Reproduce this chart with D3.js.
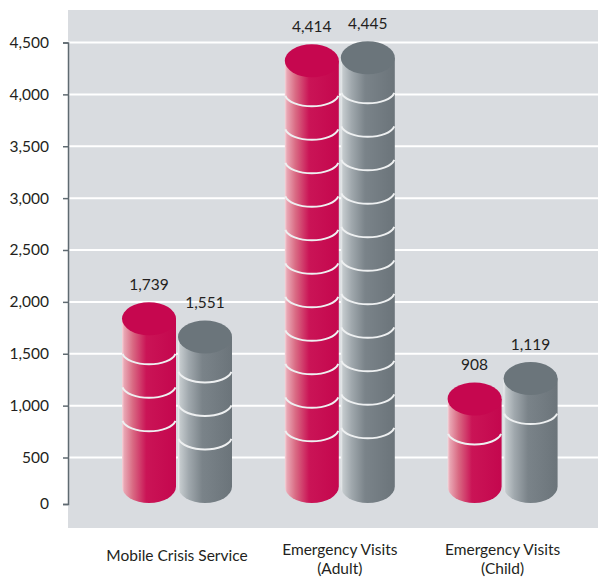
<!DOCTYPE html>
<html>
  <head>
    <meta charset="utf-8">
    <title>Crisis and Emergency Visits</title>
    <script src="https://cdn.jsdelivr.net/npm/d3@7"></script>
    <style>
      body { margin: 0; background: #fff; }
      text { font-family: Lato, "Liberation Sans", sans-serif; fill: #231f20; }
    </style>
  </head>
  <body>
<script>
// data
var categories = ["Mobile Crisis Service", "Emergency Visits\n(Adult)", "Emergency Visits\n(Child)"];
var seriesNames = ["series1", "series2"];
var series1 = [1739, 4414, 908];
var series2 = [1551, 4445, 1119];
var yTicks = [0, 500, 1000, 1500, 2000, 2500, 3000, 3500, 4000, 4500];

var w = 598, h = 581;
var plotLeft = 68, plotTop = 10, plotBottom = 528;

var svg = d3.select("body").append("svg")
    .attr("width", w)
    .attr("height", h);

var defs = svg.append("defs");
function grad(id, stops) {
  var g = defs.append("linearGradient").attr("id", id)
      .attr("x1", 0).attr("x2", 1).attr("y1", 0).attr("y2", 0);
  stops.forEach(function(s) {
    g.append("stop").attr("offset", s[0]).attr("stop-color", s[1]);
  });
}
grad("gRed", [[0, "#f6d6dc"], [0.04, "#e9a7b4"], [0.2, "#d96a83"], [0.45, "#ca1456"], [1, "#c4074e"]]);
grad("gGray", [[0, "#eef0f1"], [0.04, "#c4cacd"], [0.2, "#a0a8ad"], [0.45, "#7a8389"], [1, "#6b747a"]]);
var bodyFill = { series1: "url(#gRed)", series2: "url(#gGray)" };
var capFill = { series1: "#c6074f", series2: "#6b757b" };

// axis scale (back wall) and bar scale (front, perspective shortened)
var y = d3.scaleLinear().domain([0, 500, 4500]).range([504, 457.5, 42.5]);
var yBar = d3.scaleLinear().domain([0, 4500]).range([486.5, 52.5]);

var x0 = d3.scaleBand().domain(categories).range([95.6, 584]);
var x1 = d3.scaleBand().domain(seriesNames)
    .range([x0.bandwidth() / 2 - 56, x0.bandwidth() / 2 + 56]);

// background
svg.append("rect")
   .attr("x", plotLeft).attr("y", plotTop)
   .attr("width", w - plotLeft).attr("height", plotBottom - plotTop)
   .attr("fill", "#d9dce0");

// gridlines
svg.append("g").selectAll("line")
   .data(yTicks.filter(function(d) { return d > 0; }))
   .enter().append("line")
   .attr("x1", plotLeft).attr("x2", w)
   .attr("y1", function(d) { return y(d); })
   .attr("y2", function(d) { return y(d); })
   .attr("stroke", "#fff").attr("stroke-width", 2);

// y axis
var yAxis = d3.axisLeft(y).tickValues(yTicks).tickFormat(d3.format(",")).tickSize(5).tickPadding(14);
var ax = svg.append("g").attr("transform", "translate(" + plotLeft + ",0)").call(yAxis);
ax.select(".domain").attr("stroke", "#5f6a71").attr("stroke-width", 1.5);
ax.selectAll(".tick line").attr("stroke", "#5f6a71").attr("stroke-width", 1.5);
ax.selectAll(".tick text").attr("fill", "#231f20").style("font-size", "15.5px")
  .style("font-family", "Lato, 'Liberation Sans', sans-serif");

// cylinders
var rows = [];
categories.forEach(function(c, i) {
  rows.push({ cat: c, key: "series1", value: series1[i] });
  rows.push({ cat: c, key: "series2", value: series2[i] });
});

var bw = x1.bandwidth() - 2, rx = bw / 2, ry = 16.5;
var bars = svg.append("g").selectAll("g")
   .data(rows).enter().append("g")
   .attr("transform", function(d) {
     return "translate(" + (x0(d.cat) + x1(d.key) + x1.bandwidth() / 2) + ",0)";
   });

bars.append("path")
   .attr("d", function(d) {
     var t = yBar(d.value), b = yBar(0);
     return "M" + (-rx) + "," + t + "L" + (-rx) + "," + b +
            "A" + rx + "," + ry + " 0 0 0 " + rx + "," + b +
            "L" + rx + "," + t + "Z";
   })
   .attr("fill", function(d) { return bodyFill[d.key]; });

// white grooves, stacked from the top
bars.each(function(d) {
  var t = yBar(d.value), b = yBar(0), g = d3.select(this);
  for (var r = t + 35; r < b - 40; r += 33.5) {
    g.append("path")
     .attr("d", "M" + (-rx + 0.5) + "," + r + "A" + rx + ",13 0 0 0 " + (rx - 0.5) + "," + r)
     .attr("fill", "none").attr("stroke", "#eef0f1").attr("stroke-width", 2);
  }
});

bars.append("ellipse")
   .attr("cx", 0).attr("cy", function(d) { return yBar(d.value); })
   .attr("rx", rx).attr("ry", ry)
   .attr("fill", function(d) { return capFill[d.key]; });

bars.append("text")
   .attr("x", 0).attr("y", function(d) { return yBar(d.value) - 29; })
   .attr("text-anchor", "middle")
   .style("font-size", "15.5px")
   .text(function(d) { return d3.format(",")(d.value); });

// category labels
var cl = svg.append("g").selectAll("text")
   .data(categories).enter().append("text")
   .attr("text-anchor", "middle")
   .attr("x", function(d) { return x0(d) + x0.bandwidth() / 2; })
   .attr("y", function(d) { return d.indexOf("\n") < 0 ? 561 : 555; })
   .style("font-size", "15.5px");
cl.each(function(d) {
  var t = d3.select(this), lines = d.split("\n");
  lines.forEach(function(l, i) {
    t.append("tspan").attr("x", t.attr("x")).attr("dy", i ? 18.5 : 0).text(l);
  });
});
</script>
  </body>
</html>
